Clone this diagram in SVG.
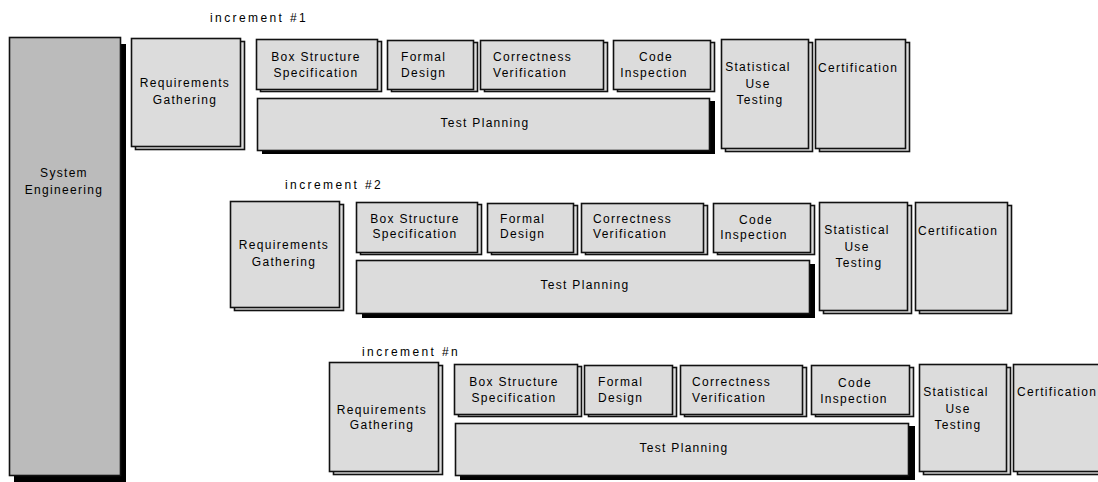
<svg xmlns="http://www.w3.org/2000/svg" width="1098" height="482" viewBox="0 0 1098 482">
<style>
.bg{fill:#ffffff}
.box{fill:#dcdcdc;stroke:#111111;stroke-width:1.6}
.sys{fill:#bbbbbb;stroke:#111111;stroke-width:1.6}
.sh{fill:#000000}
text{font-family:"Liberation Sans",Arial,sans-serif;font-size:12px;fill:#000000;letter-spacing:1.3px}
.m{text-anchor:middle}
.lbl{letter-spacing:2.4px}
</style>
<rect class="bg" x="0" y="0" width="1098" height="482"/>
<g id="connectors"/>
<g id="system-engineering">
<rect class="sh" x="14" y="44" width="112" height="440"/>
<rect class="sys" x="9.5" y="37.5" width="111" height="438"/>
<text class="m" x="64" y="177">System</text>
<text class="m" x="64" y="194">Engineering</text>
</g>
<g id="label-inc1"><text class="lbl" x="210" y="22">increment #1</text></g>
<g id="label-inc2"><text class="lbl" x="285" y="189">increment #2</text></g>
<g id="label-incn"><text class="lbl" x="362" y="356">increment #n</text></g>
<g id="increment-1">
<g id="inc1-requirements"><rect class="box" x="135.5" y="41.5" width="109" height="108"/><rect class="box" x="131.5" y="38.5" width="109" height="108"/><text class="m" x="185" y="87">Requirements</text><text class="m" x="185" y="104">Gathering</text></g>
<g id="inc1-box-structure"><rect class="box" x="260.5" y="41.5" width="121" height="50"/><rect class="box" x="256.5" y="39.5" width="121" height="50"/><text class="m" x="316" y="61">Box Structure</text><text class="m" x="316" y="77">Specification</text></g>
<g id="inc1-formal-design"><rect class="box" x="391.5" y="42.5" width="86" height="49"/><rect class="box" x="387.5" y="40.5" width="86" height="49"/><text x="401" y="61">Formal</text><text x="401" y="77">Design</text></g>
<g id="inc1-correctness"><rect class="box" x="484.5" y="42.5" width="123" height="49"/><rect class="box" x="480.5" y="40.5" width="123" height="49"/><text x="493" y="61">Correctness</text><text x="493" y="77">Verification</text></g>
<g id="inc1-code-inspection"><rect class="box" x="617.5" y="42.5" width="97" height="49"/><rect class="box" x="613.5" y="40.5" width="97" height="49"/><text class="m" x="656" y="61">Code</text><text class="m" x="654" y="77">Inspection</text></g>
<g id="inc1-test-planning"><rect class="sh" x="262" y="101" width="453" height="53"/><rect class="box" x="257.5" y="98.5" width="452" height="52"/><text class="m" x="485" y="127">Test Planning</text></g>
<g id="inc1-statistical-use-testing"><rect class="box" x="725.5" y="42.5" width="87" height="109"/><rect class="box" x="721.5" y="39.5" width="87" height="109"/><text class="m" x="758" y="71">Statistical</text><text class="m" x="758" y="88">Use</text><text class="m" x="760" y="104">Testing</text></g>
<g id="inc1-certification"><rect class="box" x="819.5" y="42.5" width="90" height="109"/><rect class="box" x="815.5" y="39.5" width="90" height="109"/><text x="818" y="72">Certification</text></g>
</g>
<g id="increment-2" transform="translate(99,163)">
<g id="inc2-requirements"><rect class="box" x="135.5" y="41.5" width="109" height="106"/><rect class="box" x="131.5" y="38.5" width="109" height="106"/><text class="m" x="185" y="86">Requirements</text><text class="m" x="185" y="103">Gathering</text></g>
<g id="inc2-box-structure"><rect class="box" x="261.5" y="41.5" width="121" height="50"/><rect class="box" x="257.5" y="39.5" width="121" height="50"/><text class="m" x="316" y="60">Box Structure</text><text class="m" x="316" y="75">Specification</text></g>
<g id="inc2-formal-design"><rect class="box" x="392.5" y="42.5" width="86" height="49"/><rect class="box" x="388.5" y="40.5" width="86" height="49"/><text x="401" y="60">Formal</text><text x="401" y="75">Design</text></g>
<g id="inc2-correctness"><rect class="box" x="486.5" y="42.5" width="122" height="49"/><rect class="box" x="482.5" y="40.5" width="122" height="49"/><text x="494" y="60">Correctness</text><text x="494" y="75">Verification</text></g>
<g id="inc2-code-inspection"><rect class="box" x="618.5" y="42.5" width="97" height="49"/><rect class="box" x="614.5" y="40.5" width="97" height="49"/><text class="m" x="657" y="61">Code</text><text class="m" x="655" y="76">Inspection</text></g>
<g id="inc2-test-planning"><rect class="sh" x="263" y="101" width="453" height="54"/><rect class="box" x="257.5" y="97.5" width="453" height="53"/><text class="m" x="486" y="126">Test Planning</text></g>
<g id="inc2-statistical-use-testing"><rect class="box" x="724.5" y="42.5" width="88" height="108"/><rect class="box" x="720.5" y="39.5" width="88" height="108"/><text class="m" x="758" y="71">Statistical</text><text class="m" x="758" y="88">Use</text><text class="m" x="760" y="104">Testing</text></g>
<g id="inc2-certification"><rect class="box" x="820.5" y="42.5" width="92" height="108"/><rect class="box" x="816.5" y="39.5" width="92" height="108"/><text x="819" y="72">Certification</text></g>
</g>
<g id="increment-n" transform="translate(198,325)">
<g id="incn-requirements"><rect class="box" x="135.5" y="40.5" width="109" height="109"/><rect class="box" x="131.5" y="37.5" width="109" height="109"/><text class="m" x="184" y="89">Requirements</text><text class="m" x="184" y="104">Gathering</text></g>
<g id="incn-box-structure"><rect class="box" x="260.5" y="41.5" width="123" height="50"/><rect class="box" x="256.5" y="39.5" width="123" height="50"/><text class="m" x="316" y="61">Box Structure</text><text class="m" x="316" y="77">Specification</text></g>
<g id="incn-formal-design"><rect class="box" x="390.5" y="42.5" width="88" height="49"/><rect class="box" x="386.5" y="40.5" width="88" height="49"/><text x="400" y="61">Formal</text><text x="400" y="77">Design</text></g>
<g id="incn-correctness"><rect class="box" x="486.5" y="42.5" width="122" height="49"/><rect class="box" x="482.5" y="40.5" width="122" height="49"/><text x="494" y="61">Correctness</text><text x="494" y="77">Verification</text></g>
<g id="incn-code-inspection"><rect class="box" x="617.5" y="42.5" width="98" height="49"/><rect class="box" x="613.5" y="40.5" width="98" height="49"/><text class="m" x="657" y="62">Code</text><text class="m" x="656" y="78">Inspection</text></g>
<g id="incn-test-planning"><rect class="sh" x="262" y="101" width="455" height="54"/><rect class="box" x="257.5" y="98.5" width="453" height="52"/><text class="m" x="486" y="127">Test Planning</text></g>
<g id="incn-statistical-use-testing"><rect class="box" x="725.5" y="42.5" width="87" height="107"/><rect class="box" x="721.5" y="39.5" width="87" height="107"/><text class="m" x="758" y="71">Statistical</text><text class="m" x="760" y="88">Use</text><text class="m" x="760" y="104">Testing</text></g>
<g id="incn-certification"><rect class="box" x="819.5" y="42.5" width="92" height="107"/><rect class="box" x="815.5" y="39.5" width="92" height="107"/><text x="819" y="71">Certification</text></g>
</g>
</svg>
